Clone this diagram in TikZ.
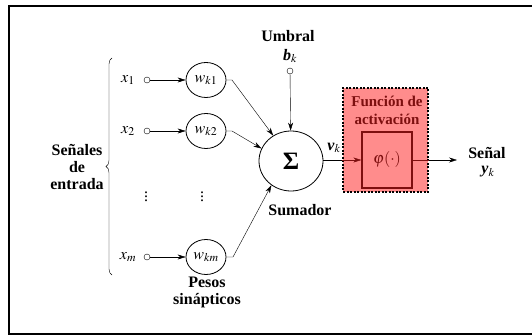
\documentclass[tikz,border=0pt]{standalone}
\usepackage{amsmath,amssymb}
\usepackage{mathptmx}
\usepackage{fontspec}
\setmainfont{Liberation Serif}
\usetikzlibrary{calc,arrows.meta,shapes.geometric,decorations.pathreplacing}
\definecolor{rosa}{RGB}{255,140,140}
\definecolor{rojo}{RGB}{125,15,15}
\newcommand{\negra}[1]{\textbf{\textit{#1}}}

\begin{document}
\begin{tikzpicture}[x=1pt,y=-1pt,
	font=\fontsize{16}{17}\selectfont,
	lbl/.style={font=\fontsize{16}{17}\selectfont\bfseries, align=center},
	peso/.style={draw, ellipse, thick, inner sep=0pt, minimum width=40, minimum height=35},
	term/.style={draw, circle, inner sep=0pt, minimum size=6pt},
	flecha/.style={-{Stealth[length=8pt,width=5pt]}}]
	
	\useasboundingbox (0,0) rectangle (532,336);
	\draw[line width=2pt] (9,6) rectangle (540,334);
	
	% entradas y pesos
	\node (x1) at (128,80) {$x_1$};
	\node (x2) at (128,131) {$x_2$};
	\node (xm) at (128,257) {$x_m$};
	\node[term] (t1) at (147,80) {};
	\node[term] (t2) at (147,131) {};
	\node[term] (tm) at (147,257) {};
	\node[peso] (w1) at (206,80) {$w_{k1}$};
	\node[peso] (w2) at (206,131) {$w_{k2}$};
	\node[peso] (wm) at (206,257) {$w_{km}$};
	\node[inner sep=0pt] (d1) at (146,194) {$\vdots$};
	\node[inner sep=0pt] (d2) at (202,194) {$\vdots$};
	\draw[flecha] (t1) -- (w1);
	\draw[flecha] (t2) -- (w2);
	\draw[flecha] (tm) -- (wm);
	
	\draw[decorate, decoration={brace, amplitude=6pt}] (112,275) -- (112,58);
	\node[lbl] (senales) at (77,167) {Señales\\de\\entrada};
	\node[lbl] (pesos) at (207,292) {Pesos\\sinápticos};
	
	% sumador
	\node[draw, ellipse, thick, minimum width=64, minimum height=60] (sum) at (291,161) {\fontsize{25}{25}\selectfont\bfseries Σ};
	\node[lbl] (sumador) at (300,210) {Sumador};
	\coordinate (c1) at (232,80);
	\coordinate (c2) at (232,131);
	\coordinate (cm) at (233,257);
	\draw[flecha] (w1.east) -- (c1) -- (sum.125);
	\draw[flecha] (w2.east) -- (c2) -- (sum.157);
	\draw[flecha] (wm.east) -- (cm) -- (sum.231);
	
	\node[lbl] (umbral) at (288,36) {Umbral};
	\node (bk) at (290,56) {\negra{b}$_k$};
	\node[term] (tb) at (290,71) {};
	\draw[flecha] (tb) -- (sum);
	
	% funcion de activacion
	\node[draw, fill=rosa, line width=2pt, dash pattern=on 2pt off 1.5pt, minimum width=85, minimum height=104] (act) at (385.5,140) {};
	\node[lbl, font=\fontsize{15}{18}\selectfont\bfseries, text=rojo] (titulo) at (387,110) {Función de\\activación};
	\node[draw=rojo, line width=1.3pt, minimum width=50, minimum height=56, text=rojo] (phi) at (387,160) {$\varphi(\cdot)$};
	\coordinate (vin) at (act.west |- phi);
	\coordinate (vout) at (act.east |- phi);
	\coordinate (salida) at (457,160);
	\draw (sum.east |- phi) -- (vin);
	\draw[flecha, rojo] (vin) -- (phi.west);
	\draw[rojo] (phi.east) -- (vout);
	\draw[flecha] (vout) -- (salida);
	\node (vk) at (334,148) {\negra{v}$_k$};
	
	\node[lbl] (senal) at (487,153) {Señal};
	\node (yk) at (488,172) {\negra{y}$_k$};
	
\end{tikzpicture}
\end{document}
